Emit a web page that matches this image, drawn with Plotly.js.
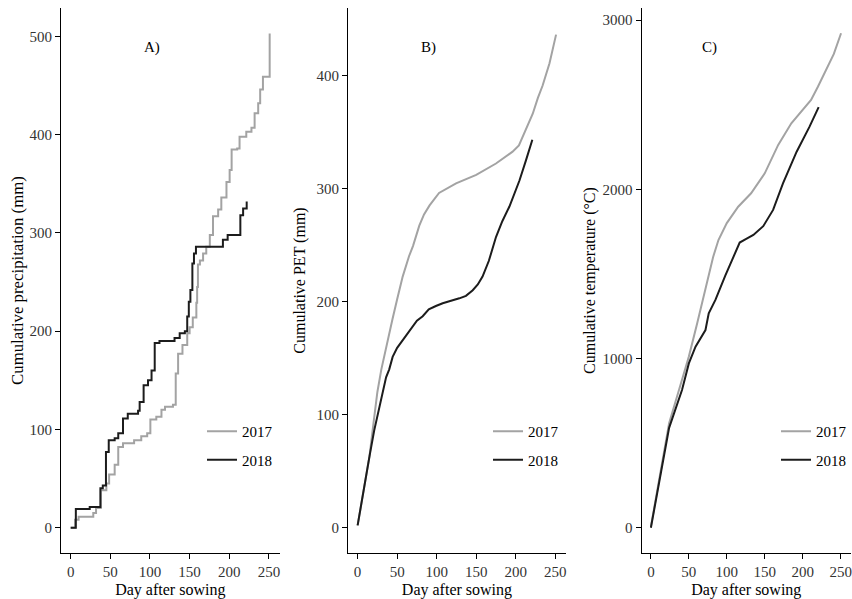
<!DOCTYPE html>
<html>
<head>
<meta charset="utf-8">
<script src="https://cdn.plot.ly/plotly-3.0.1.min.js"></script>
<style>html,body{margin:0;padding:0;background:#fff}#chart{width:852px;height:599px}</style>
</head>
<body>
<div id="chart"></div>
<script>
// ---- Data ----
var years = ['2017', '2018'];
var panelLetters = ['A)', 'B)', 'C)'];
var xTicks = [0, 50, 100, 150, 200, 250];
var precipTicks = [0, 100, 200, 300, 400, 500];
var petTicks = [0, 100, 200, 300, 400];
var tempTicks = [0, 1000, 2000, 3000];

// A) Cumulative precipitation (mm), step series
var precip2017Day = [0, 5.5, 10, 28.5, 32, 38, 45, 48.5, 55.5, 60, 66, 80, 89, 96.5, 100.5, 108, 114.5, 119, 129, 132.5, 135.5, 141, 147, 150, 154, 158.5, 159.5, 160.5, 163, 167, 171, 175.5, 179.5, 186, 190, 196.5, 200.5, 203, 210, 213, 221.5, 228, 232, 236.5, 239, 242.5, 251, 251];
var precip2017Val = [0, 8, 11, 15, 20, 38, 45, 54, 64, 82, 86, 89, 93, 96, 110, 113, 120, 123, 125, 157, 177, 186, 198, 204, 214, 229, 245, 268, 272, 279, 286, 298, 317, 324, 336, 352, 364, 385, 386, 398, 403, 407, 422, 432, 446, 459, 465, 503];
var precip2018Day = [0, 6.5, 24, 37.5, 40.5, 44.5, 48, 55.5, 60, 66, 72, 85, 87, 92, 97.5, 102, 106, 112, 131, 137.5, 144, 147, 149, 151, 153.5, 155.5, 158, 192, 198, 214, 217.5, 222];
var precip2018Val = [0, 19, 21, 40, 43, 77, 89, 91, 96, 111, 116, 119, 128, 145, 150, 160, 188, 190, 193, 198, 200, 215, 230, 242, 269, 279, 286, 293, 298, 318, 325, 332];

// B) Cumulative PET (mm)
var pet2017Day = [0, 5, 10, 15, 20, 25, 30, 36, 44, 50, 57, 65, 70, 78, 84, 91, 103, 124.5, 150, 175, 196, 204, 209, 215, 221.5, 228, 234, 242.7, 249, 251];
var pet2017Val = [2, 22, 42, 63, 92, 120, 140, 160, 184, 202, 222, 240, 249, 267, 277, 285, 296, 304.5, 312, 322, 332.5, 338, 345.7, 355, 366, 380, 391, 410.6, 431, 436];
var pet2018Day = [0, 5, 10.6, 15, 21, 25, 29.6, 36, 40, 44.3, 50, 57, 63, 69.6, 75, 82.3, 90, 99, 107.6, 128.7, 137, 145.6, 152, 158, 166, 175, 183, 192, 198, 204.7, 213, 221];
var pet2018Val = [2, 23, 45, 63, 86, 98, 113, 133, 140, 151, 159, 166, 171, 178, 183, 187, 193, 196, 198.4, 202.8, 205, 210, 215, 222, 236, 257, 271, 284, 295, 307, 325, 343];

// C) Cumulative temperature (°C)
var temp2017Day = [0, 12, 24, 37, 50, 61, 68, 76, 82, 89, 100, 115, 132, 150, 167.7, 185, 202.6, 211, 220, 233, 241, 250.5];
var temp2017Val = [6, 300, 617, 814, 1011, 1208, 1340, 1483, 1600, 1700, 1800, 1897, 1976, 2094, 2262, 2390, 2488, 2528, 2606, 2725, 2800, 2922];
var temp2018Day = [0, 12, 24, 41, 50, 58.8, 71.9, 76.2, 85, 98, 111, 117, 125, 135, 148, 161, 174, 192, 209, 221];
var temp2018Val = [0, 290, 590, 814, 971, 1070, 1168, 1267, 1346, 1490, 1630, 1685, 1705, 1730, 1782, 1878, 2035, 2222, 2370, 2485];

// ---- Styles ----
var colors = {'2017': '#a3a3a3', '2018': '#1c1c1c'};
var serif = 'Liberation Serif, Times New Roman, serif';

function tr(x, y, year, xa, ya, legendName, shape) {
  return {
    x: x, y: y, type: 'scatter', mode: 'lines', name: year,
    xaxis: xa, yaxis: ya, legend: legendName, legendgroup: legendName + year,
    line: {color: colors[year], width: 2, shape: shape || 'linear'},
    hoverinfo: 'x+y'
  };
}

var data = [
  tr(precip2017Day, precip2017Val, years[0], 'x', 'y', 'legend', 'hv'),
  tr(precip2018Day, precip2018Val, years[1], 'x', 'y', 'legend', 'hv'),
  tr(pet2017Day, pet2017Val, years[0], 'x2', 'y2', 'legend2'),
  tr(pet2018Day, pet2018Val, years[1], 'x2', 'y2', 'legend2'),
  tr(temp2017Day, temp2017Val, years[0], 'x3', 'y3', 'legend3'),
  tr(temp2018Day, temp2018Val, years[1], 'x3', 'y3', 'legend3')
];

function xax(domain, anchor) {
  return {
    domain: domain, anchor: anchor, range: [-12.3, 263.6],
    tickvals: xTicks, ticks: 'outside', ticklen: 5, tickcolor: '#000',
    showline: true, linecolor: '#000', linewidth: 1,
    showgrid: false, zeroline: false, ticklabeloverflow: 'allow',
    tickfont: {family: serif, size: 15, color: '#333'},
    title: {text: 'Day after sowing', font: {family: serif, size: 16, color: '#000'}, standoff: 4}
  };
}
function yax(anchor, range, ticks, titleText, standoff, tsize) {
  return {
    domain: [0.0768, 0.9866], anchor: anchor, range: range,
    tickvals: ticks, ticks: 'outside', ticklen: 5, tickcolor: '#000',
    showline: true, linecolor: '#000', linewidth: 1,
    showgrid: false, zeroline: false,
    tickfont: {family: serif, size: 15, color: '#333'},
    title: {text: titleText, font: {family: serif, size: tsize, color: '#000'}, standoff: standoff}
  };
}
function leg(xpx) {
  return {
    x: xpx / 852, y: 1 - 415 / 599, xanchor: 'left', yanchor: 'top',
    bgcolor: 'rgba(0,0,0,0)', borderwidth: 0,
    font: {family: serif, size: 15, color: '#000'},
    traceorder: 'grouped', tracegroupgap: 6
  };
}

var layout = {
  width: 852, height: 599,
  margin: {l: 0, r: 0, t: 0, b: 0},
  paper_bgcolor: '#fff', plot_bgcolor: '#fff',
  xaxis: xax([61 / 852, 280 / 852], 'y'),
  yaxis: yax('x', [-25.8, 529], precipTicks, 'Cumulative precipitation (mm)', 1, 16.8),
  xaxis2: xax([348.3 / 852, 566.7 / 852], 'y2'),
  yaxis2: yax('x2', [-22.4, 459.5], petTicks, 'Cumulative PET (mm)', 6, 16),
  xaxis3: xax([642.3 / 852, 1], 'y3'),
  yaxis3: yax('x3', [-149.5, 3071], tempTicks, 'Cumulative temperature (°C)', 2, 16),
  legend: leg(202),
  legend2: leg(488),
  legend3: leg(777),
  showlegend: true,
  annotations: [
    {text: panelLetters[0], xref: 'paper', yref: 'paper', x: 142 / 852, y: 1 - 37 / 599, showarrow: false, font: {family: serif, size: 15, color: '#000'}},
    {text: panelLetters[1], xref: 'paper', yref: 'paper', x: 429 / 852, y: 1 - 37 / 599, showarrow: false, font: {family: serif, size: 15, color: '#000'}},
    {text: panelLetters[2], xref: 'paper', yref: 'paper', x: 720 / 852, y: 1 - 37 / 599, showarrow: false, font: {family: serif, size: 15, color: '#000'}}
  ]
};

Plotly.newPlot('chart', data, layout, {displayModeBar: false, staticPlot: true});
</script>
</body>
</html>
